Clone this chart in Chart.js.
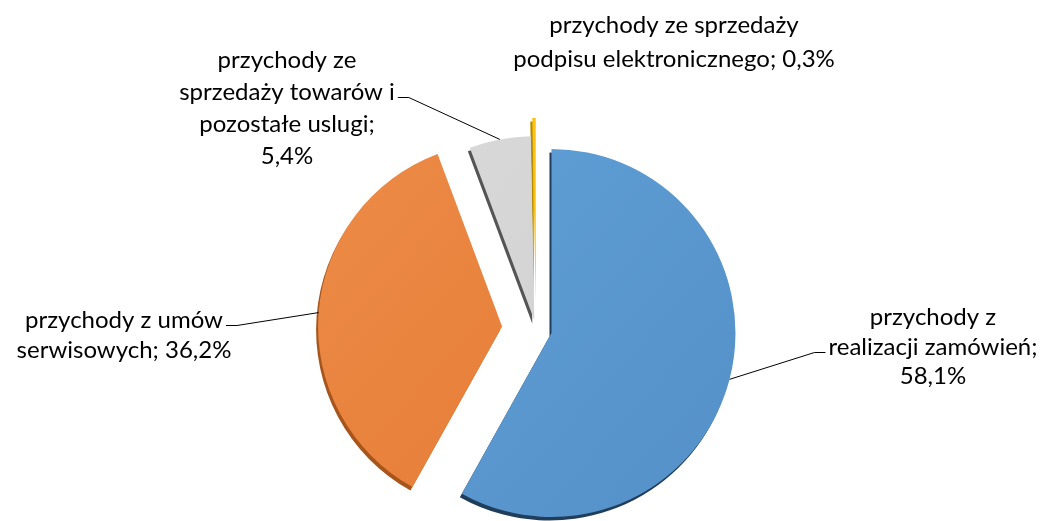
<!DOCTYPE html>
<html><head><meta charset="utf-8">
<script src="https://cdn.jsdelivr.net/npm/chart.js@4.4.1/dist/chart.umd.min.js"></script>
<style>html,body{margin:0;padding:0;background:#fff;overflow:hidden}#wrap{width:1047px;height:521px;position:relative}</style>
</head><body><div id="wrap"><canvas id="c"></canvas></div>
<script>
// ---- data ----
const categories = [
  'przychody z realizacji zamówień',
  'przychody z umów serwisowych',
  'przychody ze sprzedaży towarów i pozostałe uslugi',
  'przychody ze sprzedaży podpisu elektronicznego'
];
const shares = [58.1, 36.2, 5.4, 0.3];
// how each category name is wrapped in its data label
const labelWrap = [
  ['przychody z', 'realizacji zamówień'],
  ['przychody z umów', 'serwisowych'],
  ['przychody ze', 'sprzedaży towarów i', 'pozostałe uslugi'],
  ['przychody ze sprzedaży', 'podpisu elektronicznego']
];
const valueOnNewLine = [true, false, true, false];

// ---- style ----
const style = {
  fill: [['#60A0D8', '#5590C8'], ['#EC8B47', '#E3772F'], ['#DADADA', '#CDCDCD'], ['#FFC61A', '#F5B800']],
  rim: ['#203D5C', '#A8551C', '#555555', '#B58A00'],
  explode: [16, 34, 9, 27],
  place: [
    {cx: 933, y: 325, lh: 29.5, leader: 1, side: 'left'},
    {cx: 124, y: 328, lh: 30, leader: 0, side: 'right'},
    {cx: 287, y: 68, lh: 32, leader: 1, side: 'right'},
    {cx: 674, y: 33, lh: 34, leader: null}
  ]
};

function fmt(v) { return v.toFixed(1).replace('.', ',') + '%'; }
function buildLines(i) {
  const lines = labelWrap[i].slice();
  const last = lines.length - 1;
  if (valueOnNewLine[i]) { lines[last] += ';'; lines.push(fmt(shares[i])); }
  else { lines[last] += '; ' + fmt(shares[i]); }
  return lines;
}

const explodePlugin = {
  id: 'explode',
  afterDatasetsUpdate(chart, args, opts) {
    const meta = chart.getDatasetMeta(0);
    meta.data.forEach((el, i) => {
      const d = opts.distances[i] || 0;
      const mid = (el.startAngle + el.endAngle) / 2;
      el.x += Math.cos(mid) * d;
      el.y += Math.sin(mid) * d;
    });
  },
  beforeDatasetsDraw(chart, args, opts) {
    const ctx = chart.ctx;
    const meta = chart.getDatasetMeta(0);
    meta.data.forEach((el, i) => {
      const ghost = Object.create(Object.getPrototypeOf(el));
      Object.assign(ghost, el);
      ghost.options = Object.assign({}, el.options, {backgroundColor: opts.rim[i], borderWidth: 0});
      ctx.save();
      ctx.translate(opts.dx, opts.dy);
      ghost.draw(ctx);
      ctx.restore();
    });
  }
};

const labelPlugin = {
  id: 'sliceLabels',
  afterDatasetsDraw(chart, args, opts) {
    const ctx = chart.ctx;
    const meta = chart.getDatasetMeta(0);
    ctx.save();
    ctx.font = opts.font;
    ctx.fillStyle = opts.color;
    ctx.textAlign = 'center';
    ctx.textBaseline = 'alphabetic';
    meta.data.forEach((el, i) => {
      const lines = buildLines(i);
      const p = opts.place[i];
      lines.forEach((t, k) => ctx.fillText(t, p.cx, p.y + k * p.lh));
      if (p.leader != null) {
        const k = p.leader;
        const w = ctx.measureText(lines[k]).width;
        const yl = Math.round(p.y + k * p.lh - 3) + 0.5;
        const mid = (el.startAngle + el.endAngle) / 2;
        const ax = el.x + Math.cos(mid) * el.outerRadius;
        const ay = el.y + Math.sin(mid) * el.outerRadius;
        const xs = p.side === 'right' ? p.cx + w / 2 + 3 : p.cx - w / 2 - 3;
        const xe = p.side === 'right' ? xs + 11 : xs - 11;
        ctx.beginPath();
        ctx.moveTo(xs, yl); ctx.lineTo(xe, yl); ctx.lineTo(ax, ay);
        ctx.strokeStyle = '#000'; ctx.lineWidth = 1; ctx.stroke();
      }
    });
    ctx.restore();
  }
};

new Chart(document.getElementById('c'), {
  type: 'pie',
  data: {
    labels: categories,
    datasets: [{
      data: shares,
      radius: 184,
      borderWidth: 0,
      backgroundColor: (c) => {
        const pair = style.fill[c.dataIndex];
        const ctx = c.chart.ctx;
        const g = ctx.createLinearGradient(330, 150, 740, 520);
        g.addColorStop(0, pair[0]);
        g.addColorStop(1, pair[1]);
        return g;
      }
    }]
  },
  options: {
    responsive: true,
    maintainAspectRatio: false,
    animation: false,
    events: [],
    layout: {padding: {left: 25, right: 0, top: 137, bottom: 0}},
    plugins: {
      legend: {display: false},
      tooltip: {enabled: false},
      explode: {distances: style.explode, rim: style.rim, dx: -2, dy: 3.5},
      sliceLabels: {font: '24px Lato', color: '#000', place: style.place}
    }
  },
  plugins: [explodePlugin, labelPlugin]
});
</script>
</body></html>
